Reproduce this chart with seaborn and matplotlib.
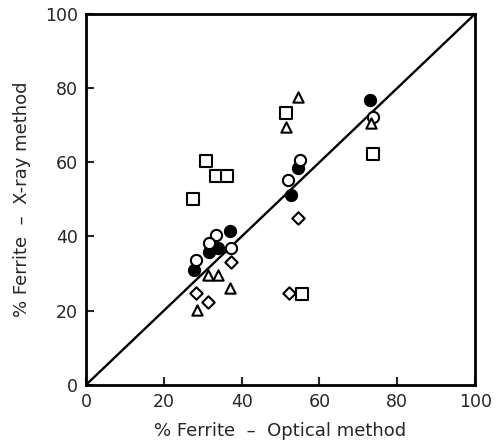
import numpy as np
import pandas as pd
import seaborn as sns
import matplotlib.pyplot as plt

sns.set_style("white")
plt.rcParams['font.family'] = ['DejaVu Sans']

# valeurs (optique, rayons X)
filled_x = [73.1, 54.6, 52.6, 36.9, 33.8, 31.5, 27.7]
filled_y = [76.8, 58.5, 51.2, 41.5, 36.9, 35.8, 31.0]

circle_x = [73.8, 55.1, 51.8, 33.3, 31.5, 37.2, 28.2]
circle_y = [72.2, 60.6, 55.3, 40.4, 38.3, 36.9, 33.7]

square_x = [51.3, 30.8, 33.3, 36.2, 27.4, 73.8, 55.6]
square_y = [73.3, 60.4, 56.3, 56.3, 50.1, 62.3, 24.5]

triangle_x = [54.4, 51.3, 73.3, 31.3, 33.8, 36.9, 28.5]
triangle_y = [77.6, 69.5, 70.6, 29.6, 29.6, 26.1, 20.2]

diamond_x = [37.2, 28.2, 31.3, 54.6, 52.1]
diamond_y = [33.2, 24.8, 22.4, 45.0, 24.8]

fig = plt.figure(figsize=(4.97, 4.46), dpi=100)
ax = fig.add_axes([0.173, 0.137, 0.783, 0.832])

# droite y = x
line_df = pd.DataFrame({"x": [0, 100], "y": [0, 100]})
sns.lineplot(data=line_df, x="x", y="y", color="black", linewidth=1.7, ax=ax, zorder=1)

groups = [
    (filled_x, filled_y, "o", "black", 65),
    (circle_x, circle_y, "o", "white", 65),
    (square_x, square_y, "s", "white", 65),
    (triangle_x, triangle_y, "^", "white", 55),
    (diamond_x, diamond_y, "D", "white", 40),
]
for gx, gy, m, fc, s in groups:
    df = pd.DataFrame({"x": gx, "y": gy})
    sns.scatterplot(data=df, x="x", y="y", marker=m, s=s, facecolor=fc,
                    edgecolor="black", linewidth=1.5, ax=ax, zorder=3)

ax.set_xlim(0, 100)
ax.set_ylim(0, 100)
ax.set_xticks([0, 20, 40, 60, 80, 100])
ax.set_yticks([0, 20, 40, 60, 80, 100])
ax.tick_params(direction="in", length=6, width=1.5, labelsize=12.5,
               bottom=True, left=True, top=False, right=False, pad=6)
for sp in ax.spines.values():
    sp.set_linewidth(2)
    sp.set_color("black")

ax.set_xlabel("% Ferrite  –  Optical method", fontsize=13, labelpad=8)
ax.set_ylabel("% Ferrite  –  X-ray method", fontsize=13, labelpad=10)

plt.savefig("out.png", dpi=100)
